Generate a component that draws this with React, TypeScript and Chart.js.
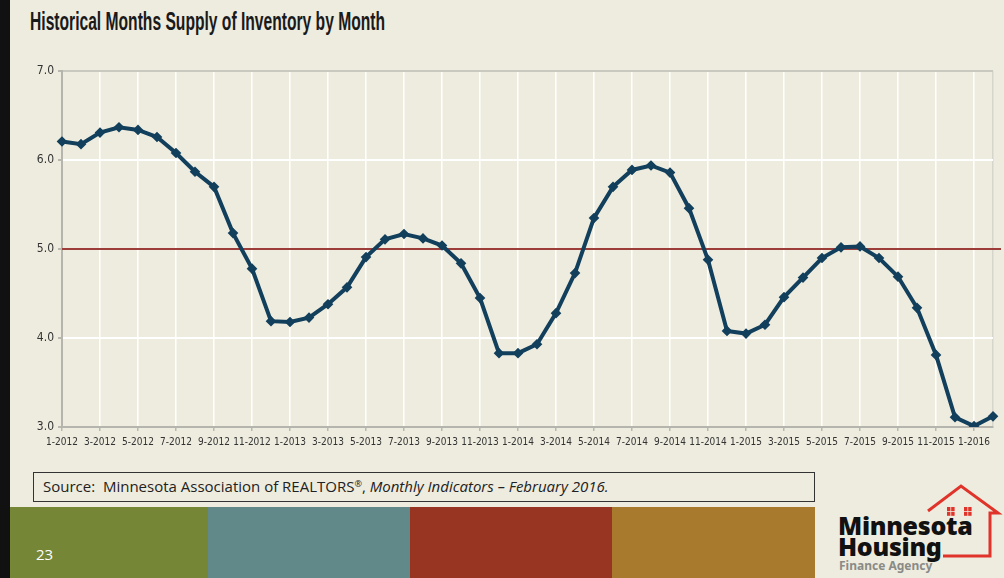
import React, { useEffect, useLayoutEffect, useRef } from "react";
import { Chart, registerables } from "chart.js";

Chart.register(...registerables);

const title = "Historical Months Supply of Inventory by Month";

const monthLabels = [
  "1-2012", "2-2012", "3-2012", "4-2012", "5-2012", "6-2012", "7-2012", "8-2012", "9-2012", "10-2012",
  "11-2012", "12-2012", "1-2013", "2-2013", "3-2013", "4-2013", "5-2013", "6-2013", "7-2013", "8-2013",
  "9-2013", "10-2013", "11-2013", "12-2013", "1-2014", "2-2014", "3-2014", "4-2014", "5-2014", "6-2014",
  "7-2014", "8-2014", "9-2014", "10-2014", "11-2014", "12-2014", "1-2015", "2-2015", "3-2015", "4-2015",
  "5-2015", "6-2015", "7-2015", "8-2015", "9-2015", "10-2015", "11-2015", "12-2015", "1-2016", "2-2016",
];

const monthsSupply = [
  6.21, 6.18, 6.31, 6.37, 6.34, 6.26, 6.08, 5.87, 5.7, 5.18,
  4.78, 4.19, 4.18, 4.23, 4.38, 4.57, 4.91, 5.11, 5.17, 5.12,
  5.04, 4.84, 4.45, 3.83, 3.83, 3.93, 4.28, 4.73, 5.35, 5.7,
  5.89, 5.94, 5.86, 5.46, 4.88, 4.08, 4.05, 4.15, 4.46, 4.68,
  4.9, 5.02, 5.03, 4.9, 4.69, 4.34, 3.81, 3.11, 3.01, 3.12,
];

const balancedMarket = 5.0;
const yMin = 3;
const yMax = 7;

const narrow = "'DejaVu Sans Condensed', 'Liberation Sans', sans-serif";

const refLinePlugin = {
  id: "refLine",
  beforeDatasetsDraw(chart: any) {
    const { ctx, chartArea, scales } = chart;
    const y = scales.y.getPixelForValue(balancedMarket);
    ctx.save();
    ctx.strokeStyle = "#9c3d3a";
    ctx.lineWidth = 2;
    ctx.beginPath();
    ctx.moveTo(chartArea.left, y);
    ctx.lineTo(chartArea.right + 8, y);
    ctx.stroke();
    ctx.restore();
  },
};

function SupplyChart() {
  const ref = useRef<HTMLCanvasElement | null>(null);
  useEffect(() => {
    if (!ref.current) return;
    const chart = new Chart(ref.current, {
      type: "line",
      data: {
        labels: monthLabels,
        datasets: [
          {
            label: "Months Supply",
            data: monthsSupply,
            borderColor: "#123f5c",
            backgroundColor: "#123f5c",
            borderWidth: 4,
            pointRadius: 2.5,
            pointStyle: "rectRot",
            tension: 0,
          },
        ],
      },
      options: {
        animation: false,
        responsive: false,
        maintainAspectRatio: false,
        layout: { padding: { top: 11, right: 11, left: 0, bottom: 0 } },
        plugins: { legend: { display: false }, tooltip: { enabled: false } },
        scales: {
          x: {
            afterFit(scale: any) {
              scale.height = 33;
            },
            grid: {
              color: (c: any) => (c.index === 0 ? "rgba(0,0,0,0)" : c.index % 2 === 0 ? "#ffffff" : c.index === monthLabels.length - 1 ? "#d6d6cc" : "rgba(0,0,0,0)"),
              lineWidth: 1.5,
              tickLength: 4,
              tickColor: (c: any) => (c.index % 2 === 0 ? "#b8b8b0" : "rgba(0,0,0,0)"),
            },
            border: { color: "#b5b5ad", width: 2 },
            ticks: {
              autoSkip: false,
              maxRotation: 0,
              padding: 5,
              color: "#333333",
              font: { family: narrow, size: 10 },
              callback: (_v: any, i: number) => (i % 2 === 0 ? monthLabels[i] : ""),
            },
          },
          y: {
            min: yMin,
            max: yMax,
            afterFit(scale: any) {
              scale.width = 62;
            },
            grid: {
              color: (c: any) => (c.tick && c.tick.value === yMax ? "#c9c9c0" : "#ffffff"),
              lineWidth: 2,
              tickLength: 4,
              tickColor: "#b8b8b0",
            },
            border: { color: "#b5b5ad", width: 2 },
            ticks: {
              stepSize: 1,
              padding: 4,
              color: "#333333",
              font: { family: narrow, size: 12 },
              callback: (v: any) => Number(v).toFixed(1),
            },
          },
        },
      },
      plugins: [refLinePlugin],
    });
    return () => chart.destroy();
  }, []);
  return (
    <canvas
      ref={ref}
      width={1004}
      height={400}
      style={{ position: "absolute", left: 0, top: 60, width: 1004, height: 400 }}
    />
  );
}

function Title() {
  const ref = useRef<HTMLDivElement | null>(null);
  useLayoutEffect(() => {
    const el = ref.current;
    if (!el) return;
    el.style.transform = "none";
    const w = el.offsetWidth;
    if (w > 0) el.style.transform = `scaleX(${355 / w})`;
  }, []);
  return (
    <div
      ref={ref}
      style={{
        position: "absolute",
        left: 30,
        top: 6,
        fontFamily: "'Liberation Sans', Arial, sans-serif",
        fontWeight: "bold",
        fontSize: 25,
        lineHeight: "30px",
        color: "#1a1a1a",
        whiteSpace: "nowrap",
        transformOrigin: "left top",
        display: "inline-block",
      }}
    >
      {title}
    </div>
  );
}

function Window({ x, y }: { x: number; y: number }) {
  return (
    <g fill="#e0332a">
      <rect x={x} y={y} width={3.4} height={4} />
      <rect x={x + 4.2} y={y} width={3.4} height={4} />
      <rect x={x} y={y + 4.8} width={3.4} height={4} />
      <rect x={x + 4.2} y={y + 4.8} width={3.4} height={4} />
    </g>
  );
}

export default function App() {
  return (
    <div
      style={{
        position: "fixed",
        left: 0,
        top: 0,
        width: 1004,
        height: 578,
        background: "#eeecdf",
        overflow: "hidden",
        fontFamily: "'Open Sans', sans-serif",
      }}
    >
      <div style={{ position: "absolute", left: 0, top: 0, width: 10, height: 578, background: "#111" }} />
      <Title />
      <SupplyChart />
      <div
        style={{
          position: "absolute",
          left: 33,
          top: 472,
          width: 782,
          height: 30,
          border: "1.5px solid #333",
          fontFamily: "'Open Sans', sans-serif",
          fontSize: 15,
          lineHeight: "27px",
          color: "#222",
          paddingLeft: 9,
          boxSizing: "border-box",
          whiteSpace: "nowrap",
        }}
      >
        Source:&nbsp; Minnesota Association of REALTORS
        <span style={{ fontSize: 9, position: "relative", top: -5 }}>®</span>, <i>Monthly Indicators – February 2016.</i>
      </div>
      <div style={{ position: "absolute", left: 10, top: 507, width: 198, height: 71, background: "#768637" }} />
      <div style={{ position: "absolute", left: 208, top: 507, width: 202, height: 71, background: "#62898a" }} />
      <div style={{ position: "absolute", left: 410, top: 507, width: 202, height: 71, background: "#983522" }} />
      <div style={{ position: "absolute", left: 612, top: 507, width: 203, height: 71, background: "#a87a2e" }} />
      <div style={{ position: "absolute", left: 36, top: 544, color: "#fff", fontSize: 15, fontFamily: "'Open Sans', sans-serif" }}>
        23
      </div>
      <svg style={{ position: "absolute", left: 900, top: 480 }} width={104} height={80}>
        <polyline
          points="28,31 61,6 98,33 90,33 90,76 43,76"
          fill="none"
          stroke="#e0332a"
          strokeWidth={3}
        />
        <Window x={47} y={27} />
        <Window x={64} y={27} />
      </svg>
      <div
        style={{
          position: "absolute",
          left: 838,
          top: 515,
          fontFamily: "'Noto Sans', sans-serif",
          fontWeight: 900,
          fontSize: 25,
          lineHeight: "21px",
          color: "#111",
          letterSpacing: -0.3,
        }}
      >
        Minnesota
        <br />
        Housing
      </div>
      <div
        style={{
          position: "absolute",
          left: 839,
          top: 557,
          fontFamily: "'Noto Sans', sans-serif",
          fontWeight: 700,
          fontSize: 12,
          color: "#8a8a86",
        }}
      >
        Finance Agency
      </div>
    </div>
  );
}
